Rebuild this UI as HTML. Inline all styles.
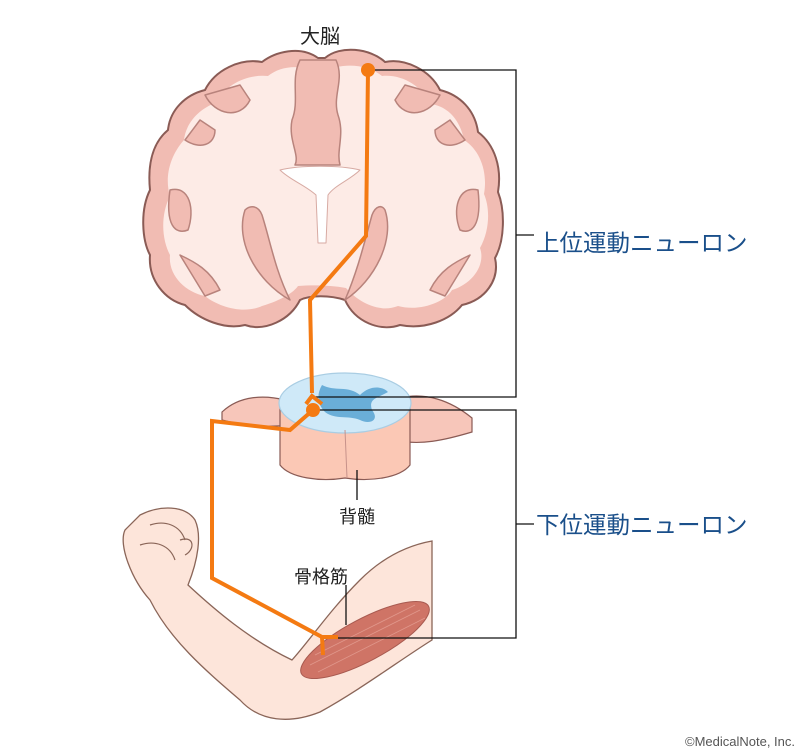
<!DOCTYPE html>
<html><head><meta charset="utf-8"><style>
html,body{margin:0;padding:0;background:#fff;}
svg{display:block}
text{font-family:"Liberation Sans","Noto Sans CJK JP",sans-serif;}
</style></head><body>
<svg width="800" height="754" viewBox="0 0 800 754" xmlns="http://www.w3.org/2000/svg">
<!-- Brain -->
<g stroke="#8a5b55" stroke-width="2" stroke-linejoin="round">
<path d="M318,58 C300,45 275,52 262,62 C240,58 215,70 205,90 C185,95 170,110 168,130 C150,145 148,170 150,190 C140,210 142,240 150,255 C148,280 165,300 185,305 C200,320 225,330 245,325 C265,332 290,320 300,300 C310,295 330,295 345,300 C355,322 380,332 400,325 C425,330 450,320 462,305 C485,300 500,280 495,258 C505,240 505,210 498,192 C502,168 495,145 478,132 C475,110 460,95 440,90 C430,70 405,58 385,62 C370,48 340,45 325,58 Z" fill="#f1bcb3"/>
<path d="M316,72 C300,64 280,66 268,76 C248,74 225,84 218,102 C200,108 186,122 184,140 C168,158 165,180 170,196 C160,216 162,240 170,255 C168,275 185,292 205,296 C220,308 245,314 262,306 C282,300 294,292 298,286 C312,285 330,285 346,288 C356,300 378,314 398,306 C420,312 445,302 452,290 C472,284 486,265 480,248 C490,230 490,208 484,194 C488,172 480,150 464,140 C460,120 448,106 430,104 C422,86 402,74 382,76 C368,64 340,62 326,72 Z" fill="#fdebe6" stroke="none"/>
<g fill="#f1bcb3" stroke="#b8837c" stroke-width="1.5">
<path d="M300,60 C290,80 300,100 292,120 C288,140 300,155 295,165 L340,165 C336,150 345,135 338,115 C332,95 345,80 336,60 Z"/>
<path d="M245,210 C235,240 255,280 290,300 C275,270 270,240 262,215 C258,205 250,205 245,210 Z"/>
<path d="M385,210 C395,240 375,280 345,300 C358,270 365,240 372,215 C376,205 382,205 385,210 Z"/>
<path d="M170,190 C190,185 195,210 188,230 C175,235 165,225 170,190 Z"/>
<path d="M478,190 C458,185 452,210 460,230 C472,235 482,225 478,190 Z"/>
<path d="M205,95 C215,115 240,120 250,100 L240,85 Z"/>
<path d="M440,95 C430,115 405,120 395,100 L405,85 Z"/>
<path d="M185,140 C200,150 215,145 215,130 L200,120 Z"/>
<path d="M465,140 C450,150 435,145 435,130 L450,120 Z"/>
<path d="M180,255 C195,262 210,270 220,290 L205,296 Z"/>
<path d="M470,255 C455,262 440,270 430,290 L445,296 Z"/>
</g>
<path d="M280,170 C300,165 340,165 360,170 C350,180 335,185 328,195 L326,243 L318,243 L316,195 C305,185 290,180 280,170 Z" fill="#fff" stroke="#d7aaa3" stroke-width="1"/>
</g>
<!-- Spinal cord -->
<g stroke="#8a5b55" stroke-width="1.2">
<path d="M222,412 C240,395 265,395 285,400 L290,425 C265,428 240,425 222,420 Z" fill="#f7c6ba"/>
<path d="M400,398 C425,392 450,400 472,418 L472,432 C445,440 420,446 395,440 Z" fill="#f7c6ba"/>
<path d="M280,400 L280,465 C290,478 320,482 345,478 C370,482 400,478 410,465 L410,400 Z" fill="#fbc8b5"/>
<ellipse cx="345" cy="403" rx="66" ry="30" fill="#cfe9f8" stroke="#a9cde3"/>
</g>
<path d="M322,385 C335,392 348,385 360,395 C370,385 382,386 388,392 C378,398 368,398 372,410 C380,420 370,425 360,420 C348,415 335,420 325,412 C318,405 316,395 322,385 Z" fill="#6aaed8"/>
<line x1="345" y1="430" x2="347" y2="478" stroke="#c7928a" stroke-width="1"/>
<!-- Arm -->
<path d="M140,515 C160,505 185,505 195,520 C202,535 198,560 188,585 C215,610 250,640 292,660 C310,640 330,610 360,580 C385,555 410,545 432,541 L432,640 C400,660 360,690 320,712 C290,724 260,722 240,700 C205,670 170,640 150,600 C132,580 118,545 125,530 Z" fill="#fde5da" stroke="#8a6558" stroke-width="1.3"/>
<path d="M150,525 C165,520 180,525 185,540 M140,545 C155,540 170,545 175,560 M180,540 C195,535 195,550 185,555" fill="none" stroke="#8a6558" stroke-width="1.2"/>
<ellipse cx="365" cy="640" rx="72" ry="21" transform="rotate(-28 365 640)" fill="#cf7466" stroke="#a85a50" stroke-width="1"/>
<g stroke="#e8a79c" stroke-width="0.8" opacity="0.7">
<line x1="310" y1="665" x2="420" y2="610"/><line x1="315" y1="655" x2="415" y2="605"/><line x1="318" y1="672" x2="425" y2="618"/>
</g>
<!-- black connectors -->
<g stroke="#111" stroke-width="1.3" fill="none">
<polyline points="368,70 516,70 516,397 315,397"/>
<polyline points="313,410 516,410 516,638 322,638"/>
<line x1="516" y1="235" x2="534" y2="235"/>
<line x1="516" y1="524" x2="534" y2="524"/>
<line x1="357" y1="470" x2="357" y2="500"/>
<line x1="346" y1="585" x2="346" y2="625"/>
</g>
<!-- orange path -->
<g stroke="#f47a12" stroke-width="4" fill="none" stroke-linejoin="miter">
<polyline points="368,70 366,236 310,300 312,393"/>
<polyline points="306,404 312,396 322,404"/>
<polyline points="313,410 290,430 212,421 212,578 322,637 338,637"/>
<line x1="322" y1="637" x2="323" y2="655"/>
</g>
<circle cx="368" cy="70" r="7" fill="#f47a12"/>
<circle cx="313" cy="410" r="7" fill="#f47a12"/>
<!-- labels -->
<text x="320" y="43" font-size="20" text-anchor="middle" fill="#222">大脳</text>
<text x="536" y="251" font-size="23.5" fill="#1a4f8a">上位運動ニューロン</text>
<text x="536" y="533" font-size="23.5" fill="#1a4f8a">下位運動ニューロン</text>
<text x="357" y="523" font-size="18" text-anchor="middle" fill="#222">背髄</text>
<text x="321" y="583" font-size="18" text-anchor="middle" fill="#222">骨格筋</text>
<text x="795" y="746" font-size="13" text-anchor="end" fill="#555">©MedicalNote, Inc.</text>
</svg>
</body></html>
